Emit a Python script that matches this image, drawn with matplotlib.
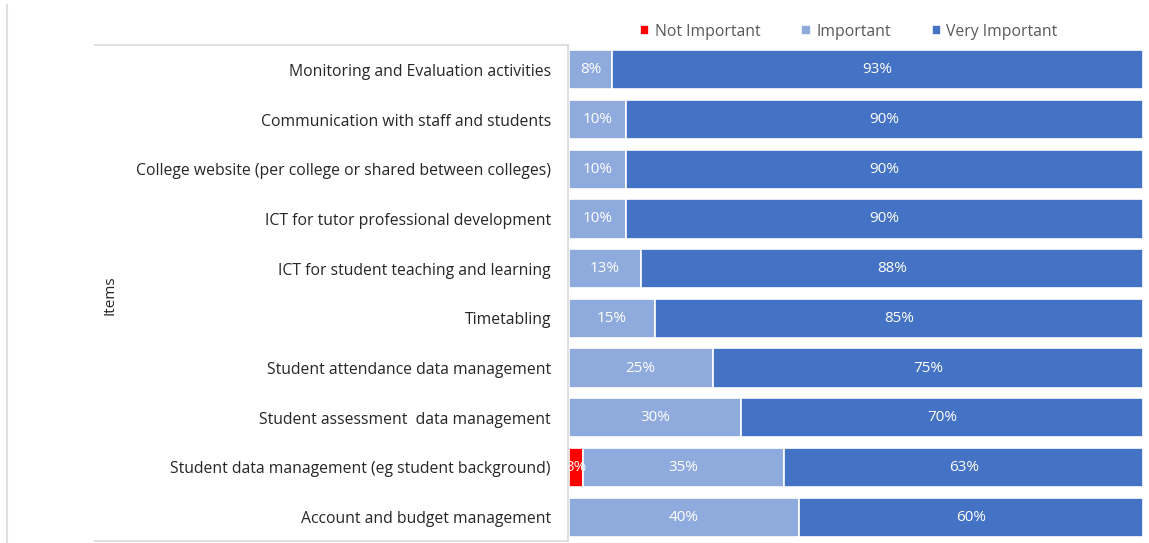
import matplotlib.pyplot as plt
from matplotlib.lines import Line2D
import numpy as np

items = [
    'Monitoring and Evaluation activities',
    'Communication with staff and students',
    'College website (per college or shared between colleges)',
    'ICT for tutor professional development',
    'ICT for student teaching and learning',
    'Timetabling',
    'Student attendance data management',
    'Student assessment  data management',
    'Student data management (eg student background)',
    'Account and budget management',
]
not_important = [0, 0, 0, 0, 0, 0, 0, 0, 2.5, 0]
important = [7.5, 10, 10, 10, 12.5, 15, 25, 30, 35, 40]
very_important = [92.5, 90, 90, 90, 87.5, 85, 75, 70, 62.5, 60]

series = [
    ('Not Important', not_important, '#FF0000'),
    ('Important', important, '#8FAADC'),
    ('Very Important', very_important, '#4472C4'),
]

plt.rcParams['font.family'] = ['Open Sans', 'DejaVu Sans']

W, H = 1149, 543
fig = plt.figure(figsize=(W / 100, H / 100), dpi=100)
ax_top, ax_bot = 45, 542
ax = fig.add_axes([569 / W, 1 - ax_bot / H, (1143 - 569) / W, (ax_bot - ax_top) / H])

y = np.arange(len(items))
left = np.zeros(len(items))
for name, vals, color in series:
    vals = np.array(vals, dtype=float)
    bars = ax.barh(y, vals, left=left, height=0.79, color=color,
                   edgecolor='white', linewidth=1.2, label=name)
    for b, v in zip(bars, vals):
        if v <= 0:
            continue
        txt = '%d%%' % int(v + 0.5)
        ax.text(b.get_x() + b.get_width() / 2, b.get_y() + b.get_height() / 2,
                txt, ha='center', va='center', color='white', fontsize=11)
    left += vals

ax.set_xlim(0, 100)
ax.set_ylim(len(items) - 0.5, -0.5)
ax.set_yticks(y)
ax.set_yticklabels(items, fontsize=11.3, color='#262626')
ax.tick_params(axis='y', length=0, pad=13)
ax.set_xticks([])
for s in ax.spines.values():
    s.set_visible(False)

fig.text(110 / W, 1 - 295 / H, 'Items', rotation=90, ha='center', va='center',
         fontsize=11, color='#262626')

leg = ax.legend(loc='center', bbox_to_anchor=(0.4875, (ax_bot - 32) / (ax_bot - ax_top)),
                ncol=3, frameon=False, fontsize=11.3, handlelength=0.6, handleheight=0.6,
                handletextpad=0.35, columnspacing=2.6, borderaxespad=0)
for t in leg.get_texts():
    t.set_color('#595959')

# table-like border around the label area and left page edge
line_c = '#D9D9D9'
fx = lambda px: px / W
fy = lambda py: 1 - py / H
fig.add_artist(Line2D([fx(95), fx(568)], [fy(45), fy(45)], color=line_c, lw=1.2))
fig.add_artist(Line2D([fx(95), fx(568)], [fy(541), fy(541)], color=line_c, lw=1.2))
fig.add_artist(Line2D([fx(568), fx(568)], [fy(45), fy(541)], color=line_c, lw=1.2))
fig.add_artist(Line2D([fx(7), fx(7)], [fy(5), fy(543)], color='#E0E0E0', lw=1.5))

fig.savefig('out.png', dpi=100)
